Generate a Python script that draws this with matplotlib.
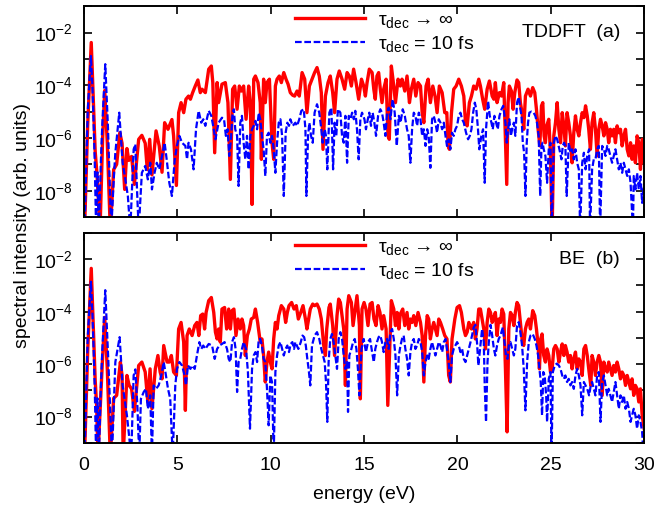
import numpy as np
import matplotlib
matplotlib.use("Agg")
import matplotlib.pyplot as plt
from matplotlib.ticker import FixedLocator, FuncFormatter

plt.rcParams["font.family"] = ["Liberation Sans", "DejaVu Sans"]
plt.rcParams["mathtext.fontset"] = "custom"
plt.rcParams["mathtext.rm"] = "Liberation Sans"
plt.rcParams["mathtext.it"] = "Liberation Sans:italic"

# (energy in eV, log10 of spectral intensity)
# panel (a) TDDFT
red_a = [
    (0.03, -9.5), (0.2, -5.5), (0.39, -2.38), (0.5, -4.6), (0.6, -6.5), (0.7, -7.4), (0.86, -9.5),
    (1.0, -6.0), (1.11, -4.2), (1.25, -6.2), (1.41, -9.5), (1.59, -7.2), (1.75, -7.0), (1.92, -5.8),
    (2.04, -6.2), (2.18, -7.95), (2.3, -6.4), (2.4, -6.85), (2.55, -6.7), (2.7, -7.76), (2.93, -6.05),
    (3.1, -5.9), (3.28, -6.2), (3.39, -7.2), (3.52, -6.05), (3.64, -7.4), (3.86, -5.73), (4.03, -6.3),
    (4.18, -7.3), (4.32, -5.42), (4.5, -5.67), (4.71, -5.3), (4.8, -5.92), (4.95, -7.8), (5.07, -5.04),
    (5.2, -4.66), (5.34, -5.04), (5.46, -4.53), (5.6, -4.41), (5.7, -4.53), (5.82, -4.28), (5.96, -4.03),
    (6.1, -3.8), (6.23, -4.28), (6.32, -4.15), (6.5, -4.28), (6.68, -3.39), (6.82, -3.27), (6.9, -3.9),
    (7.0, -6.56), (7.13, -3.9), (7.21, -4.66), (7.39, -3.96), (7.57, -3.9), (7.71, -4.66), (7.84, -7.57),
    (7.96, -4.15), (8.07, -4.03), (8.2, -4.91), (8.32, -4.03), (8.43, -4.22), (8.55, -4.03), (8.68, -5.29),
    (8.82, -4.03), (8.91, -4.66), (9.0, -8.52), (9.09, -3.77), (9.18, -3.65), (9.32, -3.9), (9.44, -4.66),
    (9.5, -6.81), (9.62, -3.77), (9.71, -4.66), (9.8, -3.9), (9.93, -3.77), (10.07, -6.18), (10.16, -6.81),
    (10.25, -4.03), (10.34, -3.77), (10.46, -3.65), (10.57, -3.9), (10.7, -3.52), (10.82, -3.77),
    (10.93, -3.96), (11.05, -4.28), (11.18, -4.38), (11.28, -4.41), (11.41, -4.22), (11.53, -4.41),
    (11.68, -3.52), (11.82, -3.77), (11.94, -5.04), (12.07, -4.03), (12.21, -3.77), (12.35, -3.52),
    (12.48, -3.33), (12.6, -3.65), (12.71, -4.28), (12.8, -6.43), (12.93, -4.41), (13.07, -3.9),
    (13.19, -3.65), (13.32, -4.28), (13.42, -5.04), (13.55, -3.77), (13.67, -3.46), (13.82, -3.77),
    (13.96, -4.15), (14.09, -3.52), (14.21, -3.65), (14.32, -4.03), (14.44, -3.39), (14.57, -3.9),
    (14.71, -4.53), (14.86, -3.77), (14.98, -4.03), (15.07, -4.41), (15.16, -3.9), (15.28, -3.39),
    (15.43, -3.52), (15.52, -4.15), (15.6, -4.53), (15.69, -3.65), (15.78, -3.52), (15.87, -4.15),
    (15.96, -4.66), (16.05, -4.15), (16.18, -3.77), (16.28, -5.92), (16.35, -6.05), (16.46, -3.27),
    (16.59, -4.03), (16.68, -4.66), (16.82, -3.77), (16.94, -4.03), (17.03, -3.77), (17.18, -4.22),
    (17.3, -3.65), (17.43, -4.66), (17.53, -4.15), (17.66, -3.77), (17.77, -4.41), (17.89, -3.9),
    (18.02, -4.03), (18.11, -5.04), (18.2, -5.42), (18.32, -4.03), (18.43, -3.77), (18.55, -4.66),
    (18.68, -4.03), (18.8, -4.41), (18.91, -5.04), (19.03, -4.03), (19.18, -4.28), (19.32, -5.04),
    (19.43, -5.04), (19.5, -6.3), (19.57, -6.43), (19.68, -5.04), (19.8, -4.15), (19.93, -4.03),
    (20.07, -3.77), (20.21, -4.03), (20.34, -4.41), (20.43, -5.42), (20.52, -5.54), (20.64, -4.66),
    (20.75, -4.41), (20.87, -4.03), (21.0, -4.15), (21.14, -3.77), (21.23, -4.03), (21.35, -4.53),
    (21.46, -4.91), (21.59, -4.15), (21.71, -3.84), (21.86, -4.41), (21.95, -4.53), (22.03, -3.9),
    (22.12, -4.66), (22.25, -4.28), (22.36, -4.41), (22.48, -3.9), (22.57, -6.0), (22.64, -7.76),
    (22.71, -4.66), (22.78, -4.03), (22.89, -4.22), (22.98, -4.91), (23.07, -4.28), (23.19, -3.8),
    (23.28, -3.9), (23.37, -4.66), (23.46, -5.04), (23.55, -5.67), (23.64, -4.41), (23.78, -4.15),
    (23.91, -4.41), (24.03, -4.09), (24.14, -4.28), (24.23, -4.91), (24.32, -5.67), (24.41, -6.3),
    (24.5, -4.78), (24.57, -4.66), (24.64, -5.92), (24.71, -6.18), (24.78, -5.54), (24.89, -5.29),
    (24.98, -6.56), (25.07, -9.5), (25.16, -5.92), (25.25, -5.42), (25.34, -4.66), (25.43, -5.67),
    (25.52, -6.18), (25.61, -5.04), (25.7, -5.54), (25.78, -6.3), (25.87, -5.04), (25.96, -5.42),
    (26.05, -5.92), (26.14, -6.94), (26.23, -5.8), (26.32, -5.16), (26.41, -5.67), (26.5, -5.92),
    (26.59, -5.42), (26.68, -5.04), (26.77, -5.23), (26.86, -4.78), (26.95, -5.16), (27.03, -5.67),
    (27.12, -6.43), (27.21, -5.42), (27.3, -5.04), (27.39, -5.67), (27.48, -6.68), (27.57, -5.67),
    (27.66, -5.29), (27.75, -5.54), (27.84, -5.92), (27.93, -5.42), (28.02, -5.67), (28.1, -6.18),
    (28.19, -5.67), (28.28, -5.92), (28.37, -5.67), (28.46, -6.18), (28.55, -5.54), (28.64, -5.8),
    (28.73, -5.67), (28.82, -6.3), (28.91, -5.92), (29.0, -5.67), (29.09, -6.43), (29.18, -6.68),
    (29.27, -6.18), (29.35, -6.81), (29.44, -6.3), (29.53, -6.94), (29.62, -5.92), (29.71, -6.18),
    (29.8, -7.19), (29.89, -6.05), (30.0, -6.94),
]

blue_a = [
    (0.03, -9.5), (0.2, -5.0), (0.37, -2.89), (0.45, -4.0), (0.52, -5.5), (0.58, -7.0), (0.65, -9.5),
    (0.72, -7.3), (0.8, -9.5), (0.9, -7.0), (0.98, -5.5), (1.14, -3.2), (1.28, -5.5), (1.46, -9.5),
    (1.6, -7.5), (1.68, -6.56), (1.89, -5.04), (2.07, -6.94), (2.2, -7.5), (2.35, -8.2), (2.48, -9.5),
    (2.66, -6.43), (2.75, -6.24), (2.84, -7.95), (2.93, -9.5), (3.1, -7.32), (3.28, -7.06), (3.42, -7.57),
    (3.55, -6.94), (3.64, -7.95), (3.78, -7.32), (3.9, -6.94), (4.03, -7.19), (4.18, -6.68), (4.32, -6.18),
    (4.45, -6.94), (4.57, -7.7), (4.71, -8.2), (4.86, -6.81), (4.98, -6.3), (5.11, -5.92), (5.25, -6.18),
    (5.43, -6.3), (5.52, -6.81), (5.6, -6.18), (5.73, -6.43), (5.87, -7.19), (6.0, -5.67), (6.14, -4.97),
    (6.28, -5.42), (6.39, -5.29), (6.5, -5.54), (6.68, -4.97), (6.82, -5.16), (6.95, -5.67), (7.04, -6.05),
    (7.21, -5.42), (7.39, -5.23), (7.5, -5.29), (7.6, -5.92), (7.69, -5.67), (7.78, -6.68), (7.87, -6.05),
    (7.96, -5.04), (8.03, -4.91), (8.1, -5.67), (8.2, -5.92), (8.28, -7.82), (8.37, -5.42), (8.46, -5.16),
    (8.55, -6.18), (8.64, -6.81), (8.73, -5.92), (8.82, -7.19), (8.91, -5.9), (9.0, -5.67), (9.09, -5.54),
    (9.18, -5.35), (9.27, -5.67), (9.36, -5.04), (9.44, -5.29), (9.53, -5.92), (9.62, -6.43), (9.71, -7.44),
    (9.8, -5.92), (9.89, -5.8), (9.98, -6.18), (10.07, -5.92), (10.16, -6.43), (10.25, -7.32),
    (10.34, -6.18), (10.43, -5.42), (10.52, -5.29), (10.61, -5.92), (10.7, -8.2), (10.8, -5.8),
    (10.89, -5.42), (10.98, -5.54), (11.05, -5.29), (11.18, -5.54), (11.32, -5.42), (11.41, -5.54),
    (11.53, -5.29), (11.64, -4.97), (11.77, -4.91), (11.86, -5.67), (11.91, -8.2), (12.0, -5.92),
    (12.07, -5.42), (12.16, -5.92), (12.25, -6.18), (12.35, -5.04), (12.48, -4.72), (12.6, -5.04),
    (12.71, -5.67), (12.78, -6.18), (12.89, -5.67), (12.96, -5.92), (13.03, -7.19), (13.14, -5.04),
    (13.25, -4.85), (13.34, -7.19), (13.42, -5.42), (13.51, -5.92), (13.6, -4.91), (13.73, -5.04),
    (13.82, -5.92), (13.91, -6.18), (14.0, -5.16), (14.09, -6.94), (14.18, -5.16), (14.27, -5.29),
    (14.36, -5.04), (14.45, -5.29), (14.53, -4.97), (14.62, -5.67), (14.71, -6.81), (14.8, -5.29),
    (14.89, -5.04), (15.02, -5.29), (15.1, -5.67), (15.2, -5.29), (15.28, -5.04), (15.37, -5.54),
    (15.46, -5.04), (15.55, -5.42), (15.64, -5.92), (15.75, -5.16), (15.87, -4.91), (15.96, -5.04),
    (16.05, -5.42), (16.14, -5.92), (16.23, -5.04), (16.32, -4.85), (16.41, -5.29), (16.53, -4.53),
    (16.64, -5.04), (16.75, -6.3), (16.86, -5.16), (16.95, -5.42), (17.07, -4.91), (17.18, -5.16),
    (17.3, -5.67), (17.39, -5.92), (17.48, -6.94), (17.57, -5.67), (17.66, -5.04), (17.75, -5.16),
    (17.84, -5.54), (17.93, -5.04), (18.02, -5.29), (18.11, -5.92), (18.2, -5.67), (18.29, -6.3),
    (18.38, -5.67), (18.46, -5.92), (18.55, -7.13), (18.64, -5.29), (18.73, -5.16), (18.82, -5.42),
    (18.91, -5.8), (19.0, -5.29), (19.09, -5.42), (19.18, -5.67), (19.27, -5.42), (19.36, -5.92),
    (19.44, -6.3), (19.53, -6.05), (19.62, -6.43), (19.71, -5.8), (19.8, -5.92), (19.89, -5.67),
    (19.98, -5.54), (20.07, -5.16), (20.16, -5.04), (20.25, -5.29), (20.34, -5.42), (20.46, -5.8),
    (20.57, -6.05), (20.66, -5.92), (20.75, -5.67), (20.84, -5.04), (20.93, -4.66), (21.01, -4.91),
    (21.1, -5.67), (21.17, -6.43), (21.28, -5.92), (21.37, -5.67), (21.46, -7.7), (21.53, -5.67),
    (21.64, -4.6), (21.73, -5.16), (21.82, -5.42), (21.89, -5.67), (21.98, -5.16), (22.07, -5.42),
    (22.16, -5.67), (22.25, -5.16), (22.36, -4.91), (22.45, -4.78), (22.57, -5.42), (22.64, -6.18),
    (22.71, -5.67), (22.78, -5.29), (22.86, -5.92), (22.93, -5.67), (23.02, -5.42), (23.1, -5.92),
    (23.19, -4.66), (23.28, -4.45), (23.37, -4.91), (23.43, -5.16), (23.5, -6.18), (23.57, -6.56),
    (23.64, -8.2), (23.71, -6.18), (23.78, -5.42), (23.85, -5.04), (23.96, -5.0), (24.08, -5.04),
    (24.17, -5.16), (24.26, -5.42), (24.35, -5.92), (24.43, -8.2), (24.5, -6.3), (24.56, -6.18),
    (24.62, -6.43), (24.71, -6.68), (24.8, -7.7), (24.89, -6.43), (24.98, -6.18), (25.05, -9.5),
    (25.16, -6.18), (25.25, -5.92), (25.34, -6.05), (25.46, -6.43), (25.57, -6.81), (25.64, -6.3),
    (25.71, -6.18), (25.78, -6.3), (25.85, -8.2), (25.96, -6.18), (26.05, -6.56), (26.14, -6.43),
    (26.23, -6.81), (26.32, -6.43), (26.41, -6.94), (26.5, -7.19), (26.57, -9.5), (26.68, -6.94),
    (26.77, -6.56), (26.86, -7.19), (26.95, -6.68), (27.05, -6.43), (27.1, -9.5), (27.21, -7.19),
    (27.3, -6.81), (27.39, -6.81), (27.48, -6.43), (27.57, -6.3), (27.64, -9.5), (27.75, -6.3),
    (27.84, -6.43), (27.93, -6.68), (28.02, -6.3), (28.1, -6.43), (28.19, -6.68), (28.28, -6.94),
    (28.37, -6.68), (28.46, -6.43), (28.55, -6.81), (28.64, -7.19), (28.73, -6.94), (28.82, -7.32),
    (28.91, -6.94), (29.0, -7.19), (29.09, -7.44), (29.18, -7.19), (29.27, -7.7), (29.4, -9.5),
    (29.44, -7.44), (29.53, -7.95), (29.62, -7.32), (29.71, -7.95), (29.8, -7.44), (29.89, -8.46),
    (30.0, -7.7),
]

# panel (b) BE
red_b = [
    (0.03, -9.5), (0.2, -5.5), (0.39, -2.35), (0.5, -4.6), (0.6, -6.6), (0.68, -7.6), (0.75, -9.5),
    (0.98, -6.0), (1.11, -4.22), (1.25, -6.2), (1.41, -9.5), (1.59, -7.3), (1.75, -7.19), (1.95, -5.92),
    (2.04, -6.43), (2.1, -9.5), (2.3, -6.43), (2.42, -6.81), (2.55, -6.94), (2.7, -7.8), (2.93, -6.05),
    (3.1, -5.92), (3.28, -6.3), (3.42, -7.44), (3.54, -6.18), (3.64, -7.7), (3.82, -6.18), (3.96, -5.67),
    (4.08, -6.3), (4.18, -6.56), (4.27, -5.29), (4.45, -5.92), (4.57, -5.92), (4.68, -5.67), (4.8, -6.3),
    (4.95, -6.43), (5.07, -4.66), (5.2, -4.41), (5.34, -5.16), (5.43, -7.76), (5.52, -4.91), (5.64, -4.66),
    (5.79, -4.91), (5.93, -4.53), (6.05, -4.41), (6.15, -4.91), (6.25, -4.15), (6.36, -4.09), (6.46, -4.66),
    (6.54, -4.03), (6.68, -3.58), (6.82, -3.46), (6.95, -4.03), (7.04, -4.78), (7.13, -5.04), (7.21, -4.66),
    (7.3, -5.16), (7.39, -3.9), (7.53, -3.84), (7.64, -4.66), (7.75, -3.9), (7.84, -4.66), (7.93, -3.96),
    (8.03, -3.9), (8.14, -4.91), (8.25, -4.28), (8.37, -4.66), (8.46, -4.28), (8.55, -4.53), (8.64, -5.67),
    (8.75, -4.91), (8.86, -4.66), (8.96, -4.28), (9.09, -4.22), (9.18, -3.9), (9.3, -4.41), (9.44, -5.16),
    (9.53, -5.04), (9.62, -5.67), (9.71, -6.68), (9.8, -5.92), (9.89, -5.54), (9.98, -5.92), (10.07, -6.18),
    (10.16, -5.04), (10.25, -4.41), (10.34, -4.66), (10.43, -4.15), (10.57, -3.77), (10.7, -3.9),
    (10.8, -4.41), (10.89, -4.03), (10.98, -3.77), (11.12, -3.65), (11.25, -3.9), (11.37, -3.77),
    (11.48, -4.28), (11.61, -4.03), (11.73, -3.77), (11.86, -4.28), (11.94, -4.66), (12.03, -4.28),
    (12.12, -3.9), (12.25, -3.71), (12.35, -3.77), (12.48, -3.71), (12.6, -3.9), (12.71, -4.28),
    (12.84, -5.29), (12.93, -5.67), (13.0, -4.66), (13.12, -3.84), (13.19, -3.71), (13.32, -4.53),
    (13.42, -5.67), (13.55, -4.15), (13.64, -3.52), (13.73, -3.65), (13.82, -4.15), (13.91, -4.66),
    (14.0, -6.81), (14.09, -3.9), (14.18, -3.39), (14.32, -3.65), (14.41, -4.53), (14.5, -4.03),
    (14.62, -3.39), (14.75, -4.53), (14.8, -7.32), (14.89, -3.9), (15.0, -3.65), (15.1, -3.9),
    (15.21, -4.53), (15.32, -3.71), (15.43, -3.65), (15.53, -4.28), (15.64, -4.53), (15.75, -3.77),
    (15.85, -4.03), (15.96, -4.66), (16.05, -4.15), (16.18, -4.66), (16.27, -7.57), (16.35, -5.92),
    (16.46, -3.58), (16.59, -3.9), (16.68, -4.53), (16.77, -4.03), (16.86, -4.66), (16.94, -4.09),
    (17.07, -3.9), (17.18, -4.53), (17.3, -4.03), (17.39, -4.66), (17.48, -4.28), (17.57, -4.41),
    (17.66, -4.15), (17.77, -4.53), (17.89, -4.03), (18.02, -4.41), (18.11, -4.91), (18.2, -6.68),
    (18.29, -4.91), (18.38, -4.15), (18.46, -4.28), (18.55, -5.04), (18.64, -4.66), (18.73, -4.41),
    (18.82, -4.66), (18.91, -4.91), (19.0, -4.28), (19.09, -4.41), (19.21, -4.66), (19.32, -4.91),
    (19.44, -5.04), (19.53, -6.43), (19.62, -6.68), (19.71, -5.04), (19.86, -4.28), (19.98, -3.84),
    (20.11, -3.77), (20.21, -4.03), (20.34, -4.66), (20.43, -4.91), (20.52, -4.78), (20.61, -4.41),
    (20.75, -4.66), (20.87, -4.41), (20.96, -5.04), (21.05, -4.66), (21.14, -3.9), (21.23, -3.9),
    (21.32, -4.28), (21.41, -4.66), (21.5, -5.42), (21.59, -4.41), (21.68, -3.9), (21.77, -4.03),
    (21.86, -4.41), (21.95, -4.22), (22.03, -4.03), (22.12, -4.91), (22.21, -4.28), (22.3, -4.41),
    (22.39, -3.9), (22.48, -4.09), (22.57, -6.18), (22.66, -8.58), (22.75, -4.66), (22.84, -4.03),
    (22.93, -4.15), (23.02, -4.53), (23.1, -4.03), (23.19, -3.65), (23.28, -3.77), (23.37, -4.41),
    (23.46, -5.04), (23.55, -5.29), (23.64, -4.66), (23.73, -4.41), (23.82, -4.28), (23.91, -4.66),
    (24.03, -3.96), (24.14, -4.15), (24.23, -4.66), (24.32, -5.29), (24.39, -6.18), (24.46, -5.04),
    (24.53, -4.85), (24.62, -5.67), (24.71, -5.92), (24.8, -5.42), (24.89, -5.67), (24.98, -6.3),
    (25.07, -6.18), (25.16, -5.42), (25.25, -5.29), (25.34, -5.42), (25.43, -5.92), (25.52, -5.54),
    (25.61, -5.23), (25.7, -5.67), (25.78, -5.29), (25.87, -5.54), (25.96, -5.92), (26.05, -5.67),
    (26.14, -6.18), (26.23, -5.8), (26.32, -5.54), (26.41, -6.18), (26.5, -5.8), (26.59, -5.92),
    (26.68, -6.43), (26.77, -5.42), (26.86, -5.29), (26.95, -5.67), (27.05, -6.3), (27.14, -6.81),
    (27.21, -5.67), (27.3, -5.92), (27.39, -6.43), (27.48, -5.92), (27.57, -5.67), (27.66, -5.92),
    (27.75, -7.19), (27.84, -5.92), (27.93, -6.18), (28.02, -6.3), (28.1, -5.92), (28.19, -6.18),
    (28.28, -6.43), (28.37, -6.05), (28.46, -6.3), (28.55, -5.92), (28.64, -6.18), (28.73, -6.56),
    (28.82, -6.3), (28.91, -6.43), (29.0, -6.81), (29.09, -6.43), (29.18, -6.68), (29.27, -6.94),
    (29.35, -6.56), (29.44, -7.19), (29.53, -6.81), (29.62, -6.94), (29.71, -7.44), (29.8, -6.94),
    (29.89, -7.95), (30.0, -8.46),
]

blue_b = [
    (0.03, -9.5), (0.2, -5.0), (0.37, -2.86), (0.45, -4.0), (0.52, -5.5), (0.58, -7.0), (0.65, -9.5),
    (0.72, -7.3), (0.8, -9.5), (0.9, -7.0), (0.98, -5.5), (1.14, -3.18), (1.3, -5.8), (1.5, -9.5),
    (1.68, -5.92), (1.91, -4.97), (2.07, -6.81), (2.3, -7.95), (2.53, -9.5), (2.66, -6.43), (2.75, -6.2),
    (2.86, -7.6), (2.96, -9.5), (3.05, -7.32), (3.2, -7.06), (3.32, -6.94), (3.42, -7.7), (3.55, -7.19),
    (3.64, -9.5), (3.73, -6.81), (3.86, -6.94), (4.0, -6.81), (4.14, -6.43), (4.27, -5.92), (4.39, -6.43),
    (4.5, -6.94), (4.62, -7.32), (4.75, -9.5), (4.89, -6.81), (4.98, -6.18), (5.11, -5.92), (5.25, -6.05),
    (5.39, -6.43), (5.46, -6.81), (5.57, -6.05), (5.7, -6.18), (5.79, -6.05), (5.93, -6.18), (6.05, -5.67),
    (6.18, -5.16), (6.28, -5.42), (6.39, -5.29), (6.5, -5.42), (6.68, -5.23), (6.86, -5.29), (7.0, -5.8),
    (7.13, -5.42), (7.25, -5.29), (7.39, -5.23), (7.53, -5.16), (7.66, -5.42), (7.75, -5.8), (7.84, -5.92),
    (7.93, -5.16), (8.03, -4.97), (8.12, -5.42), (8.2, -7.06), (8.28, -5.92), (8.37, -5.8), (8.46, -5.42),
    (8.55, -5.16), (8.68, -5.42), (8.78, -6.3), (8.89, -8.46), (9.0, -6.18), (9.09, -5.67), (9.18, -5.54),
    (9.27, -5.92), (9.36, -5.04), (9.44, -5.04), (9.53, -5.29), (9.62, -5.8), (9.71, -5.92), (9.8, -6.94),
    (9.89, -8.33), (9.98, -6.43), (10.07, -6.68), (10.16, -9.5), (10.25, -6.3), (10.34, -5.67),
    (10.43, -5.29), (10.52, -5.16), (10.61, -5.42), (10.7, -5.67), (10.8, -5.42), (10.89, -5.29),
    (10.98, -5.54), (11.07, -5.23), (11.16, -5.16), (11.25, -5.42), (11.32, -5.16), (11.48, -5.42),
    (11.61, -5.16), (11.7, -4.91), (11.79, -4.97), (11.88, -5.29), (11.96, -5.8), (12.03, -6.18),
    (12.12, -6.81), (12.21, -5.29), (12.35, -4.91), (12.48, -4.78), (12.6, -5.04), (12.71, -5.42),
    (12.8, -5.67), (12.89, -5.92), (12.96, -6.68), (13.03, -8.2), (13.1, -5.92), (13.19, -5.04),
    (13.28, -4.85), (13.37, -5.16), (13.46, -5.67), (13.55, -6.18), (13.64, -5.04), (13.73, -4.78),
    (13.82, -5.04), (13.91, -5.67), (14.0, -6.18), (14.09, -5.92), (14.14, -7.82), (14.21, -5.67),
    (14.32, -5.42), (14.41, -5.16), (14.5, -5.04), (14.59, -5.42), (14.67, -6.18), (14.75, -7.19),
    (14.86, -5.42), (14.98, -5.04), (15.1, -5.54), (15.21, -5.16), (15.32, -5.04), (15.43, -5.54),
    (15.52, -5.92), (15.6, -5.42), (15.69, -5.16), (15.78, -4.97), (15.87, -4.91), (15.96, -5.16),
    (16.05, -5.54), (16.14, -5.16), (16.23, -5.04), (16.32, -5.42), (16.41, -4.78), (16.5, -4.66),
    (16.59, -5.04), (16.68, -5.67), (16.77, -7.19), (16.86, -5.67), (16.95, -5.29), (17.03, -5.04),
    (17.12, -4.91), (17.21, -5.42), (17.3, -5.8), (17.39, -6.43), (17.48, -5.54), (17.57, -5.16),
    (17.66, -5.04), (17.75, -5.42), (17.84, -5.29), (17.93, -5.04), (18.02, -5.16), (18.11, -5.54),
    (18.2, -6.43), (18.29, -5.92), (18.38, -5.67), (18.46, -5.8), (18.55, -5.42), (18.64, -5.16),
    (18.73, -5.42), (18.82, -5.67), (18.91, -5.42), (19.0, -5.16), (19.09, -5.29), (19.18, -5.54),
    (19.27, -5.16), (19.36, -5.04), (19.44, -5.42), (19.53, -5.92), (19.62, -6.68), (19.71, -5.67),
    (19.8, -5.42), (19.89, -5.29), (19.98, -5.16), (20.07, -5.29), (20.16, -5.54), (20.25, -5.42),
    (20.34, -5.8), (20.43, -5.92), (20.52, -5.67), (20.61, -5.42), (20.7, -5.16), (20.78, -4.91),
    (20.87, -4.6), (20.96, -4.5), (21.05, -5.2), (21.12, -6.05), (21.2, -5.5), (21.32, -4.66),
    (21.41, -5.16), (21.46, -6.81), (21.53, -8.2), (21.61, -5.92), (21.68, -5.16), (21.77, -4.5),
    (21.86, -4.91), (21.95, -5.42), (22.03, -5.67), (22.12, -5.29), (22.21, -5.04), (22.3, -4.91),
    (22.43, -4.6), (22.52, -5.16), (22.6, -5.67), (22.68, -5.8), (22.75, -5.29), (22.84, -5.16),
    (22.93, -5.42), (23.02, -5.67), (23.1, -5.42), (23.19, -4.53), (23.28, -4.4), (23.37, -4.78),
    (23.46, -5.29), (23.55, -6.18), (23.64, -7.76), (23.73, -5.92), (23.82, -5.16), (23.91, -4.91),
    (24.03, -4.85), (24.14, -5.04), (24.23, -5.29), (24.32, -5.67), (24.39, -6.18), (24.46, -6.68),
    (24.53, -7.95), (24.6, -6.3), (24.67, -6.43), (24.75, -7.19), (24.8, -8.2), (24.89, -6.56),
    (24.98, -6.3), (25.04, -9.5), (25.11, -6.3), (25.21, -6.05), (25.32, -5.98), (25.43, -6.05),
    (25.52, -6.18), (25.61, -6.43), (25.7, -6.56), (25.78, -6.43), (25.87, -6.68), (25.96, -6.56),
    (26.05, -6.81), (26.14, -6.68), (26.23, -6.94), (26.32, -6.43), (26.41, -6.18), (26.5, -6.43),
    (26.59, -6.81), (26.68, -7.95), (26.77, -6.68), (26.86, -6.81), (26.95, -6.94), (27.05, -7.19),
    (27.14, -6.81), (27.21, -6.68), (27.3, -6.94), (27.39, -7.19), (27.48, -6.43), (27.57, -6.3),
    (27.66, -8.2), (27.75, -6.68), (27.84, -6.43), (27.93, -6.81), (28.02, -7.19), (28.1, -6.94),
    (28.19, -7.19), (28.28, -7.44), (28.37, -7.06), (28.46, -6.68), (28.55, -7.19), (28.64, -7.7),
    (28.73, -7.19), (28.82, -7.44), (28.91, -7.19), (29.0, -7.7), (29.09, -7.44), (29.18, -7.7),
    (29.27, -8.2), (29.35, -7.95), (29.44, -7.7), (29.53, -7.95), (29.62, -8.46), (29.71, -7.95),
    (29.8, -8.2), (29.89, -8.58), (29.96, -9.5),
]

x_ticks = [0, 5, 10, 15, 20, 25, 30]
y_decades = [-9, -8, -7, -6, -5, -4, -3, -2, -1]
y_labeled = [-8, -6, -4, -2]
label_inf = "τ$_{\\mathregular{dec}}$ → ∞"
label_10fs = "τ$_{\\mathregular{dec}}$ = 10 fs"
FS = 14


def style_axis(ax, bottom_labels):
    ax.set_xlim(0, 30)
    ax.set_yscale("log")
    ax.set_ylim(1e-9, 1e-1)
    ax.xaxis.set_major_locator(FixedLocator(x_ticks))
    ax.yaxis.set_major_locator(FixedLocator([10.0 ** d for d in y_decades]))
    ax.yaxis.set_minor_locator(FixedLocator([]))
    ax.yaxis.set_major_formatter(FuncFormatter(
        lambda v, p: f"$10^{{{int(round(np.log10(v)))}}}$"
        if int(round(np.log10(v))) in y_labeled else ""))
    ax.tick_params(which="both", direction="in", top=True, right=True,
                   length=6, width=1.2, labelsize=FS)
    ax.tick_params(axis="y", pad=8)
    ax.tick_params(axis="x", pad=10, labelbottom=bottom_labels)
    for s in ax.spines.values():
        s.set_linewidth(1.4)


def plot_panel(ax, red, blue, tag):
    e_r, l_r = np.array(red).T
    e_b, l_b = np.array(blue).T
    ax.plot(e_r, 10.0 ** l_r, color="#ff0000", lw=2.4, label=label_inf)
    ax.plot(e_b, 10.0 ** l_b, color="#0000ff", lw=1.6, ls=(0, (3.0, 1.2)), label=label_10fs)
    ax.legend(loc="upper left", bbox_to_anchor=(0.376, 0.975), frameon=False,
              fontsize=FS, handlelength=3.6, handletextpad=0.7, labelspacing=0.2,
              borderpad=0, borderaxespad=0)
    ax.text(0.957, 0.875, tag, transform=ax.transAxes, ha="right", va="center", fontsize=FS)


def main():
    fig = plt.figure(figsize=(6.56, 5.12), dpi=100)
    ax_a = fig.add_axes([0.128, 0.576, 0.854, 0.412])
    ax_b = fig.add_axes([0.128, 0.135, 0.854, 0.41])

    style_axis(ax_a, False)
    style_axis(ax_b, True)
    plot_panel(ax_a, red_a, blue_a, "TDDFT  (a)")
    plot_panel(ax_b, red_b, blue_b, "BE  (b)")

    ax_b.set_xlabel("energy (eV)", fontsize=FS, labelpad=9)
    fig.text(0.034, 0.56, "spectral intensity (arb. units)", rotation=90,
             ha="center", va="center", fontsize=FS)

    fig.savefig("out.png", dpi=100)
    plt.close(fig)


if __name__ == "__main__":
    main()
